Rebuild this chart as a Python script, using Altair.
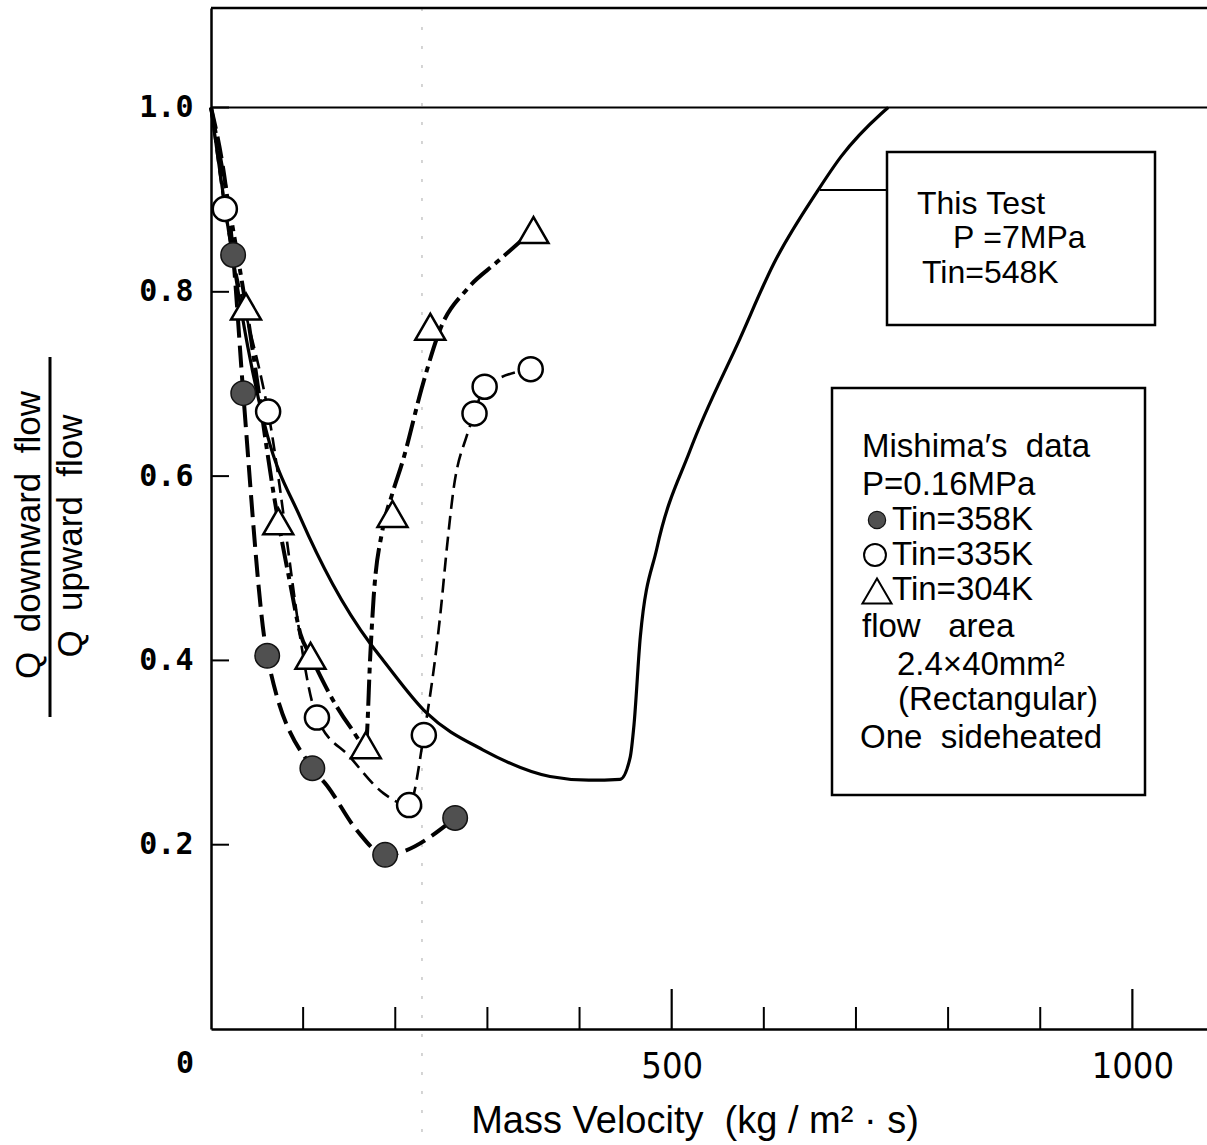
import altair as alt
import pandas as pd

# ---------------- data ----------------
# This Test (P = 7 MPa, Tin = 548 K) : solid curve
test_x = [0, 20, 40, 61, 97, 132, 173, 187, 234, 295, 368, 410, 444, 455, 459, 466, 484, 520, 574, 611, 658, 684, 727, 735]
test_y = [1.00, 0.86, 0.74, 0.645, 0.555, 0.483, 0.418, 0.400, 0.343, 0.303, 0.274, 0.270, 0.271, 0.295, 0.329, 0.426, 0.522, 0.628, 0.749, 0.831, 0.909, 0.947, 0.993, 1.00]

# Mishima's data, markers
m358_x = [24, 35, 61, 110, 189, 265]
m358_y = [0.84, 0.69, 0.405, 0.283, 0.189, 0.229]
m335_x = [15, 62, 115, 215, 231, 286, 297, 347]
m335_y = [0.89, 0.67, 0.338, 0.243, 0.319, 0.668, 0.697, 0.716]
m304_x = [38, 73, 108, 168, 197, 238, 350]
m304_y = [0.784, 0.551, 0.405, 0.308, 0.559, 0.762, 0.867]

# Mishima's data, drawn fitting curves
c358_x = [0, 24, 35, 61, 110, 126, 158, 189, 265]
c358_y = [1.00, 0.84, 0.69, 0.405, 0.283, 0.264, 0.216, 0.189, 0.229]
c335_x = [0, 15, 62, 115, 151, 187, 215, 231, 249, 256, 263, 278, 286, 297, 347]
c335_y = [1.00, 0.89, 0.67, 0.338, 0.295, 0.256, 0.243, 0.319, 0.451, 0.522, 0.584, 0.645, 0.668, 0.697, 0.716]
c304_x = [0, 38, 73, 86, 97, 108, 137, 151, 168, 173, 176.5, 186, 196.5, 208, 230, 249, 278, 310, 350]
c304_y = [1.00, 0.784, 0.551, 0.483, 0.429, 0.405, 0.349, 0.328, 0.308, 0.408, 0.468, 0.541, 0.580, 0.616, 0.700, 0.760, 0.803, 0.832, 0.867]

# axis tick values / labels
x_label_vals = [500, 1000]
x_minor_ticks = [100, 200, 300, 400, 600, 700, 800, 900]
x_major_ticks = [500, 1000]
y_tick_vals = [0.2, 0.4, 0.6, 0.8, 1.0]

NB = "\u00a0"
# annotation texts
box1_lines = ["This" + NB + "Test", "P" + NB + "=7MPa", "Tin=548K"]
box2_lines = ["Mishima′s" + NB + NB + "data", "P=0.16MPa", "Tin=358K", "Tin=335K", "Tin=304K",
              "flow" + NB + NB + NB + "area", "2.4×40mm²", "(Rectangular)", "One" + NB + NB + "sideheated"]
y_title_num = "Q" + NB + NB + "downward" + NB + NB + "flow"
y_title_den = "Q" + NB + NB + "upward" + NB + NB + "flow"
x_title = "Mass" + NB + "Velocity" + NB + NB + "(kg" + NB + "/" + NB + "m²" + NB + "·" + NB + "s)"

# ---------------- layout ----------------
W, H = 996, 1021
L, T = 211, 8
BOTTOM = 1145 - T - H

xs = alt.Scale(domain=[0, 1081], nice=False, zero=False)
ys = alt.Scale(domain=[0, 1.108], nice=False, zero=False)

NARROW = "Liberation Sans Narrow, DejaVu Sans Condensed, Roboto Condensed, Roboto"

x_axis = alt.Axis(values=x_label_vals, format="d", title=None, grid=False,
                  ticks=False, tickSize=0, domain=True, domainColor="black", domainWidth=2.5,
                  labelFont=NARROW, labelFontSize=36, labelColor="black",
                  labelPadding=20, labelFlush=False)
y_axis = alt.Axis(values=y_tick_vals, format=".1f", title=None, grid=False,
                  ticks=False, tickSize=0, domain=True, domainColor="black", domainWidth=2.5,
                  labelFont="DejaVu Sans Mono", labelFontWeight="bold", labelFontSize=30,
                  labelColor="black", labelPadding=18)

def X(f="x"):
    return alt.X(f + ":Q", scale=xs, axis=x_axis)

def Y(f="y"):
    return alt.Y(f + ":Q", scale=ys, axis=y_axis)

test_df = pd.DataFrame({"x": test_x, "y": test_y})
c358 = pd.DataFrame({"x": c358_x, "y": c358_y})
c335 = pd.DataFrame({"x": c335_x, "y": c335_y})
c304 = pd.DataFrame({"x": c304_x, "y": c304_y})
p358 = pd.DataFrame({"x": m358_x, "y": m358_y})
p335 = pd.DataFrame({"x": m335_x, "y": m335_y})
p304 = pd.DataFrame({"x": m304_x, "y": m304_y})

layers = []

# faint fold line of the scanned page
layers.append(alt.Chart(pd.DataFrame({"x": [229]})).mark_rule(
    color="#aaaaaa", strokeWidth=1, strokeDash=[3, 16]).encode(
    x=X(), y=alt.value(0), y2=alt.value(H + BOTTOM - 8)))

# frame: top line, y = 1.0 line
layers.append(alt.Chart(pd.DataFrame({"y": [1.108]})).mark_rule(
    color="black", strokeWidth=2.5).encode(x=alt.value(0), x2=alt.value(W), y=Y()))
layers.append(alt.Chart(pd.DataFrame({"y": [1.0]})).mark_rule(
    color="black", strokeWidth=2).encode(x=alt.value(0), x2=alt.value(W), y=Y()))

# inward ticks
layers.append(alt.Chart(pd.DataFrame({"y": y_tick_vals})).mark_rule(
    color="black", strokeWidth=2).encode(x=alt.value(0), x2=alt.value(18), y=Y()))
layers.append(alt.Chart(pd.DataFrame({"x": x_minor_ticks})).mark_rule(
    color="black", strokeWidth=2).encode(x=X(), y=alt.value(H), y2=alt.value(H - 22)))
layers.append(alt.Chart(pd.DataFrame({"x": x_major_ticks})).mark_rule(
    color="black", strokeWidth=2.2).encode(x=X(), y=alt.value(H), y2=alt.value(H - 40)))

# curves
layers.append(alt.Chart(test_df).mark_line(
    color="black", strokeWidth=3.2, interpolate="monotone").encode(x=X(), y=Y()))
layers.append(alt.Chart(c358).mark_line(
    color="black", strokeWidth=4, strokeDash=[22, 8], interpolate="monotone").encode(x=X(), y=Y()))
layers.append(alt.Chart(c335).mark_line(
    color="black", strokeWidth=2.6, strokeDash=[14, 7], interpolate="monotone").encode(x=X(), y=Y()))
layers.append(alt.Chart(c304).mark_line(
    color="black", strokeWidth=4, strokeDash=[26, 6, 6, 6], interpolate="monotone").encode(x=X(), y=Y()))

# markers
layers.append(alt.Chart(p358).mark_point(
    shape="circle", fill="#505050", fillOpacity=1, stroke="#111111", strokeWidth=1.5,
    size=600, opacity=1).encode(x=X(), y=Y()))
layers.append(alt.Chart(p335).mark_point(
    shape="circle", fill="white", fillOpacity=1, stroke="black", strokeWidth=2.5,
    size=580, opacity=1).encode(x=X(), y=Y()))
layers.append(alt.Chart(p304).mark_point(
    shape="triangle-up", fill="white", fillOpacity=1, stroke="black", strokeWidth=2.5,
    size=900, opacity=1).encode(x=X(), y=Y()))

# annotation boxes (pixel positions within the plot area)
PX = lambda f: alt.X(f + ":Q", scale=None, axis=None)
PY = lambda f: alt.Y(f + ":Q", scale=None, axis=None)

boxes = pd.DataFrame({"x1": [676, 621], "x2": [944, 934], "y1": [144, 380], "y2": [317, 787]})
layers.append(alt.Chart(boxes).mark_rect(
    fill="white", stroke="black", strokeWidth=2.5).encode(
    x=PX("x1"), x2="x2:Q", y=PY("y1"), y2="y2:Q"))

# leader line from the test curve to box 1
layers.append(alt.Chart(pd.DataFrame({"a": [609], "b": [676], "y": [182]})).mark_rule(
    color="black", strokeWidth=2).encode(x=PX("a"), x2="b:Q", y=PY("y")))

box1_df = pd.DataFrame({"t": box1_lines, "px": [706, 742, 711], "py": [196, 230, 265]})
layers.append(alt.Chart(box1_df).mark_text(
    align="left", baseline="middle", font="Liberation Sans", fontSize=32, color="black").encode(
    x=PX("px"), y=PY("py"), text="t:N"))

box2_df = pd.DataFrame({"t": box2_lines,
                        "px": [651, 651, 681, 681, 681, 651, 686, 687, 649],
                        "py": [439, 477, 512, 547, 582, 619, 657, 692, 730]})
layers.append(alt.Chart(box2_df).mark_text(
    align="left", baseline="middle", font="Liberation Sans", fontSize=33, color="black").encode(
    x=PX("px"), y=PY("py"), text="t:N"))

# legend symbols inside box 2
layers.append(alt.Chart(pd.DataFrame({"px": [666], "py": [512]})).mark_point(
    shape="circle", fill="#505050", fillOpacity=1, stroke="#111111", strokeWidth=1.2,
    size=300, opacity=1).encode(x=PX("px"), y=PY("py")))
layers.append(alt.Chart(pd.DataFrame({"px": [664], "py": [547]})).mark_point(
    shape="circle", fill="white", fillOpacity=1, stroke="black", strokeWidth=2,
    size=480, opacity=1).encode(x=PX("px"), y=PY("py")))
layers.append(alt.Chart(pd.DataFrame({"px": [666], "py": [583]})).mark_point(
    shape="triangle-up", fill="white", fillOpacity=1, stroke="black", strokeWidth=2,
    size=850, opacity=1).encode(x=PX("px"), y=PY("py")))

# y-axis title as a fraction
ytitle_df = pd.DataFrame({"t": [y_title_num, y_title_den], "px": [-182, -140], "py": [527, 528]})
layers.append(alt.Chart(ytitle_df).mark_text(
    align="center", baseline="middle", angle=270, font="Liberation Sans", fontSize=35,
    color="black").encode(x=PX("px"), y=PY("py"), text="t:N"))
layers.append(alt.Chart(pd.DataFrame({"x": [-161], "a": [349], "b": [709]})).mark_rule(
    color="black", strokeWidth=3).encode(x=PX("x"), y=PY("a"), y2="b:Q"))

# origin label and x-axis title
layers.append(alt.Chart(pd.DataFrame({"t": ["0"], "px": [-26], "py": [1056]})).mark_text(
    align="center", baseline="middle", font="DejaVu Sans Mono", fontWeight="bold", fontSize=30,
    color="black").encode(x=PX("px"), y=PY("py"), text="t:N"))
layers.append(alt.Chart(pd.DataFrame({"t": [x_title], "px": [484], "py": [1114]})).mark_text(
    align="center", baseline="middle", font="Liberation Sans", fontSize=38,
    color="black").encode(x=PX("px"), y=PY("py"), text="t:N"))

chart = alt.layer(*layers).properties(
    width=W, height=H,
    padding={"left": L, "top": T, "right": 0, "bottom": BOTTOM},
    autosize=alt.AutoSizeParams(type="none"),
    background="white",
).configure_view(stroke=None)

chart.save("out.html", embed_options={"renderer": "svg", "actions": False})
